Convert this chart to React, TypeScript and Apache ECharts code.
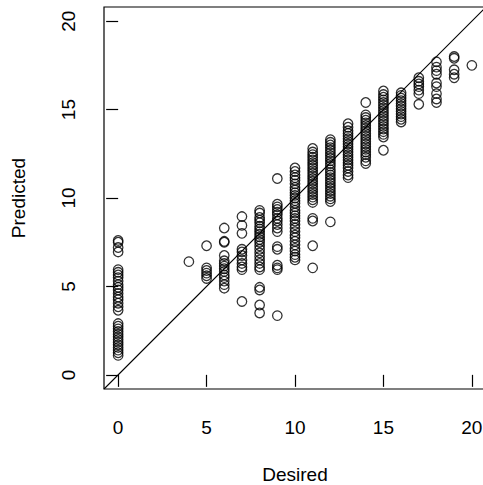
import React, { useEffect, useRef } from "react";
import * as echarts from "echarts";

// Desired value of each column and the predicted values read for it
const desiredValues = [0, 4, 5, 6, 7, 8, 9, 10, 11, 12, 13, 14, 15, 16, 17, 18, 19, 20];
const pred0 = [7.6, 7.5, 7.2, 6.95, 5.95, 5.8, 5.65, 5.5, 5.3, 5.1, 4.95, 4.8, 4.6, 4.4, 4.25, 4.05, 3.85, 3.65, 2.9, 2.75, 2.6, 2.45, 2.3, 2.15, 2.0, 1.85, 1.7, 1.55, 1.4, 1.25, 1.1];
const pred4 = [6.4];
const pred5 = [7.3, 6.05, 5.9, 5.75, 5.6, 5.45];
const pred6 = [8.3, 7.55, 7.5, 6.75, 6.45, 6.3, 6.15, 6.0, 5.85, 5.65, 5.5, 5.3, 5.1, 4.9];
const pred7 = [8.95, 8.45, 8.0, 7.1, 6.95, 6.75, 6.5, 6.3, 6.1, 5.95, 4.15];
const pred8 = [9.3, 9.15, 8.9, 8.75, 8.6, 8.4, 8.25, 8.1, 7.95, 7.8, 7.65, 7.5, 7.3, 7.1, 6.9, 6.7, 6.5, 6.3, 6.1, 5.95, 4.95, 4.8, 3.95, 3.5];
const pred9 = [11.1, 9.65, 9.5, 9.35, 9.2, 9.05, 8.85, 8.7, 8.5, 8.3, 8.1, 7.25, 7.1, 6.2, 6.05, 5.95, 3.35];
const pred10 = [11.7, 11.5, 11.3, 11.15, 11.0, 10.8, 10.6, 10.45, 10.3, 10.15, 10.0, 9.85, 9.7, 9.5, 9.3, 9.15, 9.0, 8.85, 8.7, 8.5, 8.3, 8.1, 7.9, 7.75, 7.55, 7.35, 7.15, 7.0, 6.8, 6.65, 6.5];
const pred11 = [12.8, 12.6, 12.45, 12.3, 12.15, 12.0, 11.85, 11.7, 11.55, 11.4, 11.25, 11.1, 10.95, 10.8, 10.65, 10.5, 10.35, 10.2, 10.05, 9.9, 9.75, 8.85, 8.7, 7.3, 6.05];
const pred12 = [13.3, 13.15, 13.0, 12.85, 12.7, 12.55, 12.4, 12.25, 12.1, 11.95, 11.8, 11.6, 11.45, 11.3, 11.15, 11.0, 10.85, 10.7, 10.55, 10.4, 10.25, 10.1, 9.95, 9.8, 8.65];
const pred13 = [14.2, 14.0, 13.8, 13.65, 13.5, 13.35, 13.2, 13.05, 12.9, 12.75, 12.6, 12.45, 12.3, 12.15, 12.0, 11.85, 11.7, 11.5, 11.3, 11.15];
const pred14 = [15.4, 14.7, 14.55, 14.4, 14.25, 14.1, 13.95, 13.8, 13.65, 13.5, 13.35, 13.2, 13.05, 12.9, 12.75, 12.6, 12.45, 12.3, 12.1, 11.95];
const pred15 = [16.05, 15.85, 15.7, 15.55, 15.4, 15.25, 15.1, 14.95, 14.8, 14.65, 14.5, 14.35, 14.2, 14.05, 13.9, 13.75, 13.6, 13.45, 12.7];
const pred16 = [15.95, 15.8, 15.65, 15.5, 15.35, 15.2, 15.05, 14.9, 14.75, 14.6, 14.45, 14.3];
const pred17 = [16.8, 16.6, 16.45, 16.3, 16.1, 15.9, 15.3];
const pred18 = [17.7, 17.4, 17.2, 17.0, 16.5, 16.3, 15.9, 15.6, 15.4];
const pred19 = [18.0, 17.9, 17.25, 17.0, 16.8];
const pred20 = [17.5];
const predictedByColumn = [pred0, pred4, pred5, pred6, pred7, pred8, pred9, pred10, pred11, pred12, pred13, pred14, pred15, pred16, pred17, pred18, pred19, pred20];

const tickValues = [0, 5, 10, 15, 20];
const axisMin = -0.8;
const axisMax = 20.8;
const identityLine = [[axisMin, axisMin], [axisMax, axisMax]];

export default function App() {
  const ref = useRef<HTMLDivElement>(null);
  useEffect(() => {
    if (!ref.current) return;
    const chart = echarts.init(ref.current, null, { renderer: "svg" });
    const points: number[][] = [];
    desiredValues.forEach((d, i) => {
      predictedByColumn[i].forEach((p) => points.push([d, p]));
    });
    const font = "'Liberation Sans', Arial, Helvetica, sans-serif";
    chart.setOption({
      animation: false,
      backgroundColor: "#ffffff",
      grid: {
        left: 104,
        top: 7,
        width: 382,
        height: 382,
        containLabel: false,
        outerBoundsMode: "none",
        show: true,
        borderColor: "#000",
        borderWidth: 1.2,
        backgroundColor: "transparent",
      },
      xAxis: {
        type: "value",
        min: axisMin,
        max: axisMax,
        name: "Desired",
        nameLocation: "middle",
        nameGap: 76,
        nameTextStyle: { color: "#000", fontSize: 19, lineHeight: 19, fontFamily: font },
        splitLine: { show: false },
        axisLine: { show: false },
        axisTick: {
          show: true,
          inside: false,
          length: 12,
          customValues: tickValues,
          lineStyle: { color: "#000", width: 1.2 },
        },
        axisLabel: {
          customValues: tickValues,
          color: "#000",
          fontSize: 19,
          fontFamily: font,
          margin: 29,
        },
      },
      yAxis: {
        type: "value",
        min: axisMin,
        max: axisMax,
        name: "Predicted",
        nameLocation: "middle",
        nameGap: 76,
        nameTextStyle: { color: "#000", fontSize: 19, lineHeight: 19, fontFamily: font },
        splitLine: { show: false },
        axisLine: { show: false },
        axisTick: {
          show: true,
          inside: false,
          length: 12,
          customValues: tickValues,
          lineStyle: { color: "#000", width: 1.2 },
        },
        axisLabel: {
          customValues: tickValues,
          color: "#000",
          fontSize: 19,
          fontFamily: font,
          rotate: 90,
          align: "center",
          verticalAlign: "bottom",
          margin: 26,
        },
      },
      series: [
        {
          type: "line",
          data: identityLine,
          symbol: "none",
          silent: true,
          lineStyle: { color: "#000", width: 1.1 },
          z: 1,
        },
        {
          type: "scatter",
          data: points,
          symbol: "circle",
          symbolSize: 9.5,
          silent: true,
          itemStyle: { color: "rgba(0,0,0,0)", borderColor: "#000", borderWidth: 1.3 },
          z: 2,
        },
      ],
    });
    return () => chart.dispose();
  }, []);
  return (
    <div
      ref={ref}
      style={{ position: "fixed", left: 0, top: 0, width: 483, height: 485 }}
    />
  );
}
